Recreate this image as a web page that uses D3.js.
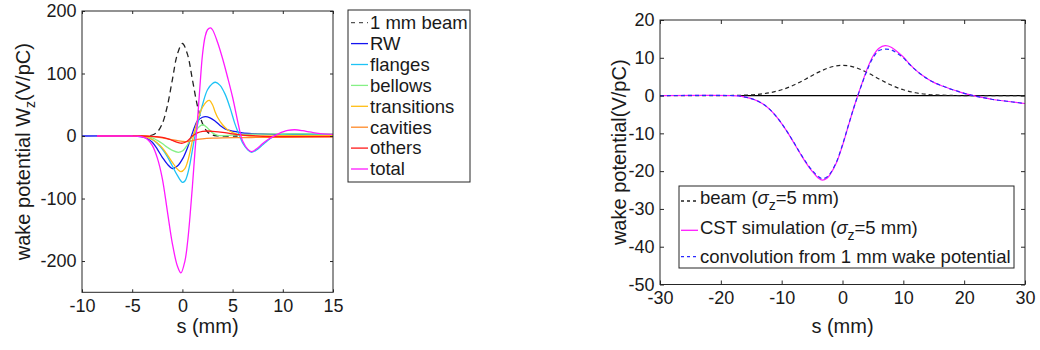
<!DOCTYPE html>
<html>
<head>
<meta charset="utf-8">
<script src="https://cdn.jsdelivr.net/npm/d3@7"></script>
<style>
  body { margin: 0; background: #fff; }
  svg { display: block; }
</style>
</head>
<body>
<svg id="chart" width="1040" height="350"></svg>
<script>
// ---------- Left panel: 1 mm bunch wake potentials by component, [s (mm), W (V/pC)] ----------
const beam1mm = [[-3.2,0.8],[-3,1.6],[-2.5,6.5],[-2,20],[-1.5,48],[-1,90],[-0.5,131],[0,148],[0.5,131],[1,90],[1.5,48],[2,20],[2.5,6.5],[3,1.6],[3.5,0.3],[4,0],[5.5,0]];
const rw = [[-10,0],[-5,0],[-4.5,-0.5],[-4,-1.5],[-3.5,-4],[-3,-10],[-2.5,-21],[-2,-34],[-1.5,-45],[-1,-52],[-0.5,-48],[0,-37],[0.5,-19],[0.9,0],[1.25,16],[1.5,24],[2,30],[2.3,31],[2.75,29],[3.25,24],[3.75,17],[4.25,11.5],[5,8],[5.5,6.5],[6,5],[7,3.8],[8,3.2],[10,2.6],[12,2.3],[15,2]];
const flanges = [[-8.5,0],[-5,0],[-4,-0.5],[-3.5,-2],[-3,-5.5],[-2.5,-12],[-2,-21],[-1.5,-33],[-1,-48],[-0.5,-63],[0,-74],[0.25,-72],[0.5,-62],[0.75,-45],[1,-22],[1.25,0],[1.5,18],[2,50],[2.5,74],[3,84],[3.3,86],[3.75,81],[4.25,67],[4.75,45],[5.2,21],[5.5,8],[5.75,-2],[6,-11],[6.5,-22],[6.9,-26],[7.5,-21],[8,-14],[8.5,-7],[9,-2],[9.5,1],[10,2.5],[11,3.5],[12,3.5],[13,3],[15,2.5]];
const bellows = [[-8.5,0],[-4,0],[-3.5,-1],[-3,-3],[-2.5,-7],[-2,-12],[-1.5,-18],[-1,-23],[-0.4,-26],[0,-24],[0.5,-14],[1,0],[1.5,12],[2,18],[2.5,13],[3,5],[3.5,1],[4,0.5],[5,1.5],[7,3],[10,3.5],[15,3.5]];
const transitions = [[-8.5,0],[-5,0],[-4,-0.5],[-3.5,-2],[-3,-5.5],[-2.5,-11],[-2,-19],[-1.5,-30],[-1,-42],[-0.5,-53],[-0.15,-57],[0.25,-52],[0.5,-42],[0.75,-26],[1,-7],[1.25,10],[1.5,25],[2,46],[2.4,55],[2.7,57],[3,50],[3.25,39],[3.5,30],[4,18],[4.5,10],[5,5.5],[5.5,2.5],[6,1],[7,0],[8,0],[10,0.5],[15,0.5]];
const cavities = [[-8.5,0],[-4,0],[-3,-1],[-2,-3],[-1,-6],[0,-8.5],[0.5,-9],[1,-7.5],[1.5,-5.5],[2,-4.5],[3,-3.5],[4,-3],[6,-2.5],[8,-2.2],[10,-2],[15,-1.5]];
const others = [[-8.5,0],[-4,0],[-3,-0.5],[-2,-2],[-1.5,-4],[-1,-7],[-0.5,-10],[0,-11.5],[0.5,-8],[1,0],[1.5,5],[2,7.5],[2.5,8],[3,7.5],[4,6],[5,3.5],[6,1.5],[7,0.5],[8,-0.5],[10,-1],[15,-1]];
const total = [[-8.5,0],[-6,0],[-5,0],[-4.5,-0.3],[-4,-1.5],[-3.5,-5],[-3,-15],[-2.5,-35],[-2,-68],[-1.5,-120],[-1,-172],[-0.5,-208],[-0.15,-219],[0.25,-200],[0.5,-172],[0.75,-130],[1,-80],[1.25,-25],[1.5,25],[1.75,80],[2,130],[2.25,158],[2.5,170],[2.8,173],[3,170],[3.5,150],[4,124],[4.5,94],[5,62],[5.5,24],[5.8,2],[6,-8],[6.5,-21],[6.9,-25],[7.5,-19],[8,-12],[8.5,-6],[9,-1],[9.5,3],[10,6.5],[10.5,9],[11.2,10],[12,8.5],[12.5,7],[13,5.5],[14,3.5],[15,2.7]];

const leftNames  = ["1 mm beam", "RW", "flanges", "bellows", "transitions", "cavities", "others", "total"];
const leftColors = ["#222222", "#1414f0", "#1ec3f5", "#86f086", "#ffbe14", "#ff8a28", "#ff1a1a", "#ff1aff"];
const leftXTicks = [-10, -5, 0, 5, 10, 15];
const leftYTicks = [-200, -100, 0, 100, 200];

// ---------- Right panel: 5 mm bunch, simulation vs. convolution, [s (mm), W (V/pC)] ----------
const beam5mm = [[-30,0],[-20,0],[-18,0.03],[-16,0.12],[-14,0.31],[-12,0.74],[-10,1.53],[-8,2.78],[-6,4.41],[-4,6.14],[-2,7.49],[0,8],[2,7.49],[4,6.14],[6,4.41],[8,2.78],[10,1.53],[12,0.74],[14,0.31],[16,0.12],[18,0.03],[20,0],[30,0]];
const cst5mm = [[-30,0],[-18,0],[-17,-0.1],[-16,-0.4],[-15,-0.8],[-14,-1.4],[-13,-2.3],[-12,-3.6],[-11,-5.3],[-10,-7.4],[-9,-9.8],[-8,-12.5],[-7,-15.2],[-6,-17.8],[-5,-20],[-4,-21.8],[-3.3,-22.4],[-2.5,-21.8],[-2,-20.8],[-1,-17.8],[0,-13.2],[1,-7.8],[2,-2.5],[3,2.3],[4,6.8],[5,10.4],[6,12.5],[7,13.2],[8,12.8],[9,11.6],[10,10.2],[11,8.4],[12,6.8],[13,5.5],[14,4.4],[15,3.5],[16,2.8],[17,2.2],[18,1.6],[19,1.1],[20,0.6],[21,0.2],[22,-0.2],[23,-0.5],[24,-0.8],[25,-1.1],[26,-1.3],[27,-1.5],[28,-1.7],[29,-1.9],[30,-2.1]];
const conv5mm = [[-30,0],[-18,0],[-17,-0.1],[-16,-0.4],[-15,-0.8],[-14,-1.4],[-13,-2.3],[-12,-3.6],[-11,-5.3],[-10,-7.4],[-9,-9.8],[-8,-12.4],[-7,-15.1],[-6,-17.6],[-5,-19.8],[-4,-21.4],[-3.3,-22.0],[-2.5,-21.5],[-2,-20.6],[-1,-17.6],[0,-13.0],[1,-7.7],[2,-2.5],[3,2.2],[4,6.5],[5,10.0],[6,11.9],[7,12.3],[8,12.1],[9,11.2],[10,10.0],[11,8.3],[12,6.8],[13,5.5],[14,4.4],[15,3.5],[16,2.8],[17,2.2],[18,1.6],[19,1.1],[20,0.6],[21,0.2],[22,-0.2],[23,-0.5],[24,-0.8],[25,-1.1],[26,-1.3],[27,-1.5],[28,-1.7],[29,-1.9],[30,-2.1]];
const zeroRef = [[-17,0],[30,0]];

const rightColors = ["#222222", "#ff1aff", "#2a2aff"];
const rightXTicks = [-30, -20, -10, 0, 10, 20, 30];
const rightYTicks = [-50, -40, -30, -20, -10, 0, 10, 20];

// ---------- drawing ----------
const FONT = '"Liberation Sans", Arial, Helvetica, sans-serif';
const INK = "#1a1a1a";
const AXIS = "#262626";
const svg = d3.select("#chart").attr("font-family", FONT);

function panel(o) {
  const x = d3.scaleLinear().domain(o.xDomain).range(o.xRange);
  const y = d3.scaleLinear().domain(o.yDomain).range(o.yRange);
  const [x0, x1] = o.xRange, [y1, y0] = o.yRange;

  svg.append("clipPath").attr("id", o.id + "-clip")
    .append("rect").attr("x", x0).attr("y", y0).attr("width", x1 - x0).attr("height", y1 - y0);

  const plot = svg.append("g").attr("clip-path", `url(#${o.id}-clip)`);
  const line = d3.line().x(d => x(d[0])).y(d => y(d[1])).curve(d3.curveCatmullRom.alpha(0.5));
  o.series.forEach(s => {
    plot.append("path").datum(s.data)
      .attr("d", line).attr("fill", "none")
      .attr("stroke", s.color).attr("stroke-width", s.width)
      .attr("stroke-dasharray", s.dash || null);
  });

  const fmt = d => String(d);
  const style = g => {
    g.select(".domain").remove();
    g.attr("font-family", FONT).attr("font-size", 18).attr("color", INK);
    g.selectAll(".tick line").attr("stroke", AXIS).attr("stroke-width", 1);
  };
  const tl = o.tickLen;
  svg.append("g").attr("transform", `translate(0,${y1})`)
    .call(d3.axisBottom(x).tickValues(o.xTicks).tickFormat(fmt).tickSizeInner(-tl).tickSizeOuter(0).tickPadding(7.2)).call(style);
  svg.append("g").attr("transform", `translate(0,${y0})`)
    .call(d3.axisTop(x).tickValues(o.xTicks).tickFormat("").tickSizeInner(-tl).tickSizeOuter(0)).call(style);
  svg.append("g").attr("transform", `translate(${x0},0)`)
    .call(d3.axisLeft(y).tickValues(o.yTicks).tickFormat(fmt).tickSizeInner(-tl).tickSizeOuter(0).tickPadding(5.5)).call(style);
  svg.append("g").attr("transform", `translate(${x1},0)`)
    .call(d3.axisRight(y).tickValues(o.yTicks).tickFormat("").tickSizeInner(-tl).tickSizeOuter(0)).call(style);

  svg.append("rect").attr("x", x0).attr("y", y0).attr("width", x1 - x0).attr("height", y1 - y0)
    .attr("fill", "none").attr("stroke", AXIS).attr("stroke-width", 1);

  // x label
  svg.append("text").attr("x", (x0 + x1) / 2).attr("y", o.xLabelY)
    .attr("text-anchor", "middle").attr("font-size", 20).attr("fill", INK).text("s (mm)");

  // y label
  const yl = svg.append("text")
    .attr("transform", `translate(${o.yLabelX},${(y0 + y1) / 2}) rotate(-90)`)
    .attr("text-anchor", "middle").attr("font-size", 20).attr("fill", INK);
  o.yLabel(yl);

  return { x, y };
}

// left panel
panel({
  id: "left",
  xDomain: [-10, 15], xRange: [82, 333],
  yDomain: [-250, 200], yRange: [292.3, 11],
  xTicks: leftXTicks, yTicks: leftYTicks, tickLen: 3,
  xLabelY: 333, yLabelX: 30,
  yLabel: t => {
    t.append("tspan").text("wake potential W");
    t.append("tspan").attr("font-size", 14).attr("dy", 5).text("z");
    t.append("tspan").attr("dy", -5).text("(V/pC)");
  },
  series: [
    { data: beam1mm,     color: leftColors[0], width: 1.3, dash: "6,4" },
    { data: rw,          color: leftColors[1], width: 1.3 },
    { data: flanges,     color: leftColors[2], width: 1.3 },
    { data: bellows,     color: leftColors[3], width: 1.3 },
    { data: transitions, color: leftColors[4], width: 1.3 },
    { data: cavities,    color: leftColors[5], width: 1.3 },
    { data: others,      color: leftColors[6], width: 1.3 },
    { data: total,       color: leftColors[7], width: 1.3 }
  ]
});

// left legend
{
  const lg = svg.append("g");
  lg.append("rect").attr("x", 348).attr("y", 10).attr("width", 122).attr("height", 172)
    .attr("fill", "#fff").attr("stroke", AXIS).attr("stroke-width", 1);
  leftNames.forEach((name, i) => {
    const base = 29 + i * 20.9;
    lg.append("line").attr("x1", 351).attr("x2", 368).attr("y1", base - 6.3).attr("y2", base - 6.3)
      .attr("stroke", i === 0 ? "#555" : leftColors[i]).attr("stroke-width", 1.3)
      .attr("stroke-dasharray", i === 0 ? "4,4" : null);
    lg.append("text").attr("x", 370).attr("y", base).attr("font-size", 18.5).attr("fill", INK).text(name);
  });
}

// right panel
panel({
  id: "right",
  xDomain: [-30, 30], xRange: [660, 1025],
  yDomain: [-50, 20], yRange: [284.5, 20],
  xTicks: rightXTicks, yTicks: rightYTicks, tickLen: 4,
  xLabelY: 333, yLabelX: 626,
  yLabel: t => t.text("wake potential(V/pC)"),
  series: [
    { data: zeroRef, color: "#000", width: 1.2 },
    { data: beam5mm, color: rightColors[0], width: 1.2, dash: "4,3" },
    { data: cst5mm,  color: rightColors[1], width: 1.2 },
    { data: conv5mm, color: rightColors[2], width: 1.2, dash: "4,3" }
  ]
});

// right legend
{
  const lg = svg.append("g");
  lg.append("rect").attr("x", 679).attr("y", 186).attr("width", 335).attr("height", 82)
    .attr("fill", "#fff").attr("stroke", AXIS).attr("stroke-width", 1);
  const entries = [
    { color: rightColors[0], dash: "3,3", lift: 3, parts: [["beam ("], ["σ", "it"], ["z", "sub"], ["=5 mm)"]] },
    { color: rightColors[1], dash: null,  lift: 3.3, parts: [["CST simulation ("], ["σ", "it"], ["z", "sub"], ["=5 mm)"]] },
    { color: rightColors[2], dash: "3,3", lift: 6.5, parts: [["convolution from 1 mm wake potential"]] }
  ];
  entries.forEach((e, i) => {
    const base = 204 + i * 29.6;
    lg.append("line").attr("x1", 681).attr("x2", 698).attr("y1", base - e.lift).attr("y2", base - e.lift)
      .attr("stroke", e.color).attr("stroke-width", 1.3).attr("stroke-dasharray", e.dash);
    const t = lg.append("text").attr("x", 700).attr("y", base).attr("font-size", 18.5).attr("fill", INK);
    let shifted = false;
    e.parts.forEach(([s, kind]) => {
      const sp = t.append("tspan").text(s);
      if (kind === "it") sp.attr("font-style", "italic");
      if (kind === "sub") { sp.attr("font-size", 14).attr("dy", 6); shifted = true; }
      else if (shifted) { sp.attr("dy", -6); shifted = false; }
    });
  });
}
</script>
</body>
</html>
